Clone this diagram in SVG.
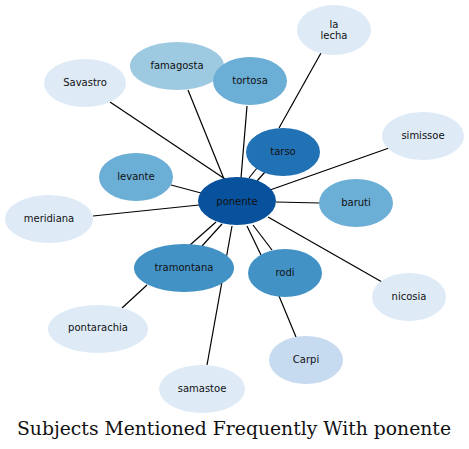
<svg xmlns="http://www.w3.org/2000/svg" width="469" height="449" viewBox="0 0 469 449">
<style>
.n text{font-family:"DejaVu Sans",sans-serif;font-size:10px;fill:#111;text-anchor:middle;dominant-baseline:central}
#edges line{stroke:#000;stroke-width:1.2}
.c0{fill:#08519c}.c1{fill:#2171b5}.c2{fill:#4292c6}.c3{fill:#6baed6}.c4{fill:#9ecae1}.c5{fill:#c6dbef}.c6{fill:#deebf7}
</style>
<rect width="469" height="449" fill="#fff"/>
<g id="edges">
<line x1="110" y1="102" x2="228" y2="181"/>
<line x1="188" y1="90" x2="224" y2="179"/>
<line x1="247" y1="106" x2="241" y2="178"/>
<line x1="321" y1="53" x2="279" y2="128"/>
<line x1="389" y1="148" x2="270" y2="190"/>
<line x1="171" y1="185" x2="201" y2="193"/>
<line x1="93" y1="216" x2="199" y2="205"/>
<line x1="276" y1="202" x2="320" y2="203"/>
<line x1="268" y1="217" x2="382" y2="282"/>
<line x1="249" y1="178" x2="257" y2="168"/>
<line x1="257" y1="181" x2="265" y2="172"/>
<line x1="190" y1="245" x2="216" y2="222"/>
<line x1="202" y1="246" x2="222" y2="224"/>
<line x1="247" y1="226" x2="261" y2="255"/>
<line x1="253" y1="225" x2="272" y2="250"/>
<line x1="232" y1="226" x2="207" y2="365"/>
<line x1="122" y1="308" x2="147" y2="285"/>
<line x1="296" y1="337" x2="279" y2="296"/>
</g>
<g id="n-lalecha" class="n"><ellipse class="c6" cx="334" cy="30" rx="37" ry="25"/><text x="334" y="24">la</text><text x="334" y="35">lecha</text></g>
<g id="n-savastro" class="n"><ellipse class="c6" cx="85" cy="83" rx="41" ry="24"/><text x="85" y="82">Savastro</text></g>
<g id="n-famagosta" class="n"><ellipse class="c4" cx="177" cy="66" rx="47" ry="24"/><text x="177" y="65">famagosta</text></g>
<g id="n-tortosa" class="n"><ellipse class="c3" cx="250" cy="81" rx="37" ry="24"/><text x="250" y="80">tortosa</text></g>
<g id="n-simissoe" class="n"><ellipse class="c6" cx="423" cy="136" rx="41" ry="24"/><text x="423" y="135">simissoe</text></g>
<g id="n-tarso" class="n"><ellipse class="c1" cx="283" cy="152" rx="37" ry="24"/><text x="283" y="151">tarso</text></g>
<g id="n-levante" class="n"><ellipse class="c3" cx="136" cy="177" rx="37" ry="24"/><text x="136" y="176">levante</text></g>
<g id="n-ponente" class="n"><ellipse class="c0" cx="237" cy="201" rx="39" ry="24"/><text x="237" y="201">ponente</text></g>
<g id="n-baruti" class="n"><ellipse class="c3" cx="356" cy="203" rx="37" ry="24"/><text x="356" y="202">baruti</text></g>
<g id="n-meridiana" class="n"><ellipse class="c6" cx="49" cy="219" rx="44" ry="24"/><text x="49" y="218">meridiana</text></g>
<g id="n-tramontana" class="n"><ellipse class="c2" cx="184" cy="268" rx="50" ry="24"/><text x="184" y="267">tramontana</text></g>
<g id="n-rodi" class="n"><ellipse class="c2" cx="285" cy="273" rx="37" ry="24"/><text x="285" y="272">rodi</text></g>
<g id="n-nicosia" class="n"><ellipse class="c6" cx="409" cy="297" rx="37" ry="24"/><text x="409" y="296">nicosia</text></g>
<g id="n-pontarachia" class="n"><ellipse class="c6" cx="98" cy="329" rx="50" ry="24"/><text x="98" y="327">pontarachia</text></g>
<g id="n-carpi" class="n"><ellipse class="c5" cx="306" cy="360" rx="37" ry="24"/><text x="306" y="359">Carpi</text></g>
<g id="n-samastoe" class="n"><ellipse class="c6" cx="202" cy="389" rx="43" ry="24"/><text x="202" y="388">samastoe</text></g>
<text x="234" y="435" font-family="DejaVu Serif,serif" font-size="18" text-anchor="middle" textLength="434" lengthAdjust="spacingAndGlyphs" fill="#111">Subjects Mentioned Frequently With ponente</text>
</svg>
